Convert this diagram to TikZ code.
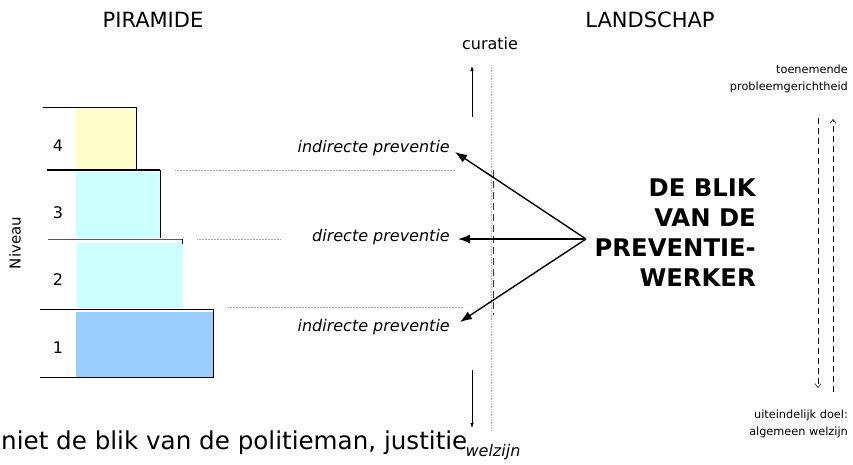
\documentclass[tikz,border=0pt]{standalone}
\usepackage{fontspec}
\setmainfont{DejaVu Sans}
\usetikzlibrary{arrows.meta}
\definecolor{lvlyellow}{HTML}{FFFFCC}
\definecolor{lvlcyan}{HTML}{CCFFFF}
\definecolor{lvlblue}{HTML}{99CCFF}
\tikzset{
  fs/.style={font=\fontsize{#1}{#1}\selectfont},
  title/.style={fs=21, inner sep=0pt},
  lvlnum/.style={fs=16, inner sep=0pt},
  prevlabel/.style={font=\fontsize{16}{16}\selectfont\itshape, inner sep=0pt, anchor=east},
  bigarrow/.style={line width=1.4pt, -{Latex[length=12pt,width=9pt]}},
  thinarrow/.style={line width=0.6pt, -{Latex[length=5pt,width=3.5pt]}},
  guide/.style={densely dotted, gray!70, line width=0.5pt},
  smalltxt/.style={font=\fontsize{11.3}{16.5}\selectfont, align=right, anchor=east, inner sep=0pt},
  dashline/.style={dash pattern=on 6pt off 4pt, line width=0.5pt, -{Straight Barb[length=4pt,width=6pt]}}
}
\begin{document}
\begin{tikzpicture}[x=1pt,y=-1pt]
\useasboundingbox (0,0) rectangle (853,464);
% titles
\node[title] (piramide) at (153,20) {PIRAMIDE};
\node[title] (landschap) at (650,20) {LANDSCHAP};
% pyramid levels
\fill[lvlyellow] (75,109) rectangle (136,170);
\draw[line width=0.6pt] (43,107) -- (136,107) -- (136,170);
\fill[lvlcyan] (76,172) rectangle (160,238);
\draw[line width=1.5pt] (47,170) -- (160,170);
\draw[line width=0.6pt] (160,170) -- (160,238);
\fill[lvlcyan] (77,243) rectangle (183,308);
\draw[line width=0.8pt, gray!70!black] (48,239) -- (182,239);
\draw[line width=0.6pt] (182,239) -- (182,244);
\fill[lvlblue] (76,312) rectangle (213,377);
\draw[line width=0.6pt] (40,309) -- (213,309) -- (213,378);
\draw[line width=0.6pt] (40,377) -- (213,377);
\node[lvlnum] (n4) at (58,146) {4};
\node[lvlnum] (n3) at (58,213) {3};
\node[lvlnum] (n2) at (58,280) {2};
\node[lvlnum] (n1) at (58,348) {1};
\node[fs=15, rotate=90, inner sep=0pt] (niveau) at (15,243) {Niveau};
% guide lines
\draw[guide] (175,170) -- (455,170);
\draw[guide] (197,239) -- (280,239);
\draw[guide] (228,307) -- (463,307);
% prevention labels
\node[prevlabel] (ind1) at (450,148) {indirecte preventie};
\node[prevlabel] (dir) at (450,237) {directe preventie};
\node[prevlabel] (ind2) at (450,327) {indirecte preventie};
% landscape center line
\draw[densely dotted, gray!60, line width=0.6pt] (491.5,65) -- (491.5,430);
\draw[dash pattern=on 7pt off 4pt, gray!40!black, line width=0.8pt] (493,170) -- (493,315);
% curatie / welzijn
\node[fs=16, inner sep=0pt] (curatie) at (490,44) {curatie};
\node[font=\fontsize{16}{16}\selectfont\itshape, inner sep=0pt] (welzijn) at (493,452) {welzijn};
\coordinate (upS) at (472,117);
\coordinate (upE) at (472,66);
\coordinate (dnS) at (472,370);
\coordinate (dnE) at (472,428);
\draw[thinarrow] (upS) -- (upE);
\draw[thinarrow] (dnS) -- (dnE);
% big arrows
\coordinate (apex) at (586,239);
\coordinate (t1) at (455,152);
\coordinate (t2) at (458,239);
\coordinate (t3) at (460,322);
\draw[bigarrow] (apex) -- (t1);
\draw[bigarrow] (apex) -- (t2);
\draw[bigarrow] (apex) -- (t3);
% big title
\node[font=\fontsize{24.3}{30}\selectfont\bfseries, align=right, anchor=east, inner sep=0pt] (blik) at (756,233) {DE BLIK\\VAN DE\\PREVENTIE-\\WERKER};
% right side
\node[smalltxt] (toen) at (848,79) {toenemende\\probleemgerichtheid};
\node[smalltxt] (doel) at (848,424) {uiteindelijk doel:\\algemeen welzijn};
\coordinate (dl1) at (818,118);
\coordinate (dl2) at (818,388);
\coordinate (dr1) at (833,392);
\coordinate (dr2) at (833,119);
\draw[dashline] (dl1) -- (dl2);
\draw[dashline] (dr1) -- (dr2);
% bottom text
\node[fs=24.6, anchor=west, inner sep=0pt] (bottom) at (1,443) {niet de blik van de politieman, justitie};
\end{tikzpicture}
\end{document}
